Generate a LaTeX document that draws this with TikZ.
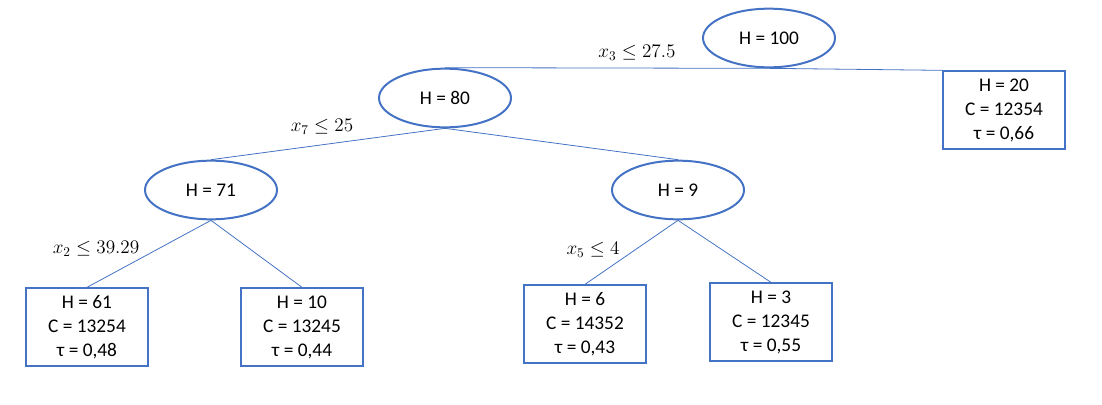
\documentclass[tikz,border=0pt]{standalone}
\usepackage{fontspec}
\setmainfont{Carlito}
\usetikzlibrary{shapes.geometric}
\definecolor{office}{HTML}{4472C4}
\tikzset{
  every node/.style={font=\fontsize{14.5}{18}\selectfont},
  ell/.style={draw=office, line width=1.5pt, ellipse, minimum width=99pt, minimum height=44pt, inner sep=0pt},
  leaf/.style={draw=office, line width=1.5pt, rectangle, minimum width=91.5pt, minimum height=58pt, align=center, inner sep=0pt},
  conn/.style={draw=office, line width=0.6pt},
  lbl/.style={font=\fontsize{14.5}{18}\selectfont, inner sep=0pt}
}
\begin{document}
\begin{tikzpicture}[x=0.75pt, y=-0.75pt]
\useasboundingbox (0,0) rectangle (1102,404);
\node[ell] (h100) at (769,38) {H = 100};
\node[ell] (h80) at (445,98) {H = 80};
\node[leaf] (h20) at (1004,110) {H = 20\\C = 12354\\τ = 0,66};
\node[ell] (h71) at (211,190) {H = 71};
\node[ell] (h9) at (678,190) {H = 9};
\node[leaf] (h61) at (87,327) {H = 61\\C = 13254\\τ = 0,48};
\node[leaf] (h10) at (302,327) {H = 10\\C = 13245\\τ = 0,44};
\node[leaf] (h6) at (585,324) {H = 6\\C = 14352\\τ = 0,43};
\node[leaf] (h3) at (771,322) {H = 3\\C = 12345\\τ = 0,55};
\node[lbl] (l3) at (637,53) {$x_3 \leq 27.5$};
\node[lbl] (l7) at (322,127) {$x_7 \leq 25$};
\node[lbl] (l2) at (96,249) {$x_2 \leq 39.29$};
\node[lbl] (l5) at (593,250) {$x_5 \leq 4$};
\draw[conn] (h100.south) -- (h80.north);
\draw[conn] (h100.south) -- (h20.north west);
\draw[conn] (h80.south) -- (h71.north);
\draw[conn] (h80.south) -- (h9.north);
\draw[conn] (h71.south) -- (h61.north);
\draw[conn] (h71.south) -- (h10.north);
\draw[conn] (h9.south) -- (h6.north);
\draw[conn] (h9.south) -- (h3.north);
\end{tikzpicture}
\end{document}
